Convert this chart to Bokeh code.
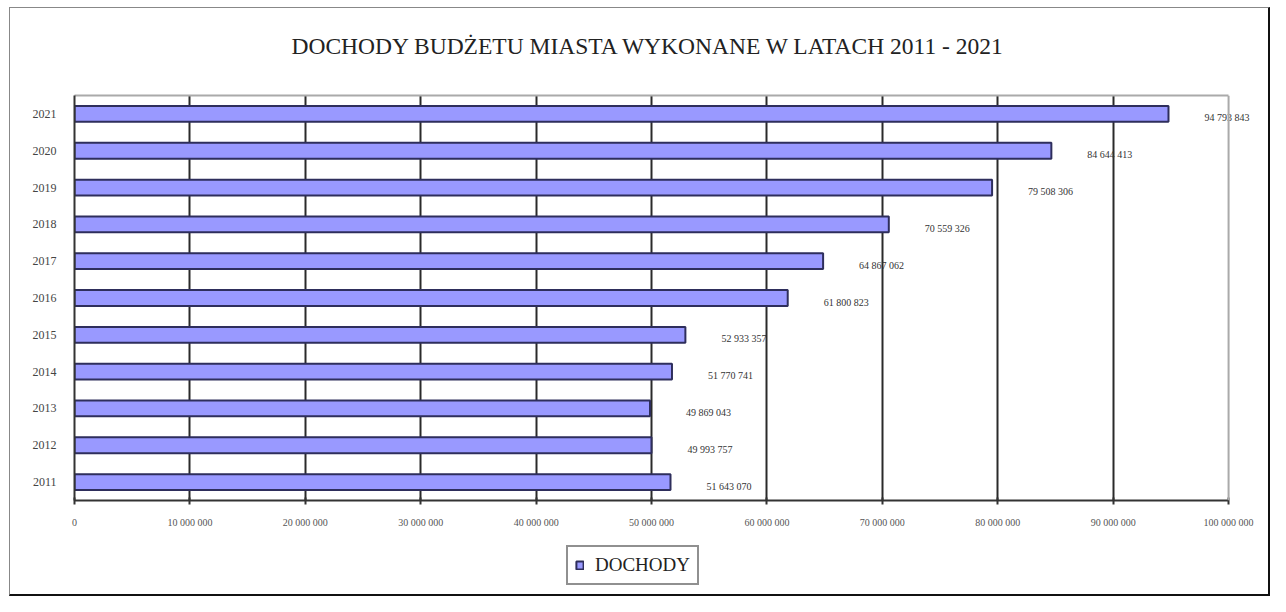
from bokeh.plotting import figure
from bokeh.layouts import column
from bokeh.models import (FactorRange, Range1d, FixedTicker, Legend, LegendItem, ColumnDataSource,
                          Span, LinearAxis, InlineStyleSheet)
from bokeh.core.properties import value
from bokeh.embed import file_html
from bokeh.resources import INLINE

# ---- data ----
years = ["2011", "2012", "2013", "2014", "2015", "2016", "2017", "2018", "2019", "2020", "2021"]
dochody = [51643070, 49993757, 49869043, 51770741, 52933357, 61800823, 64867062, 70559326, 79508306, 84644413, 94793843]
x_ticks = [0, 10000000, 20000000, 30000000, 40000000, 50000000, 60000000, 70000000, 80000000, 90000000, 100000000]
title_text = "DOCHODY BUDŻETU MIASTA WYKONANE W LATACH 2011 - 2021"
series_name = "DOCHODY"

def fmt(v):
    return f"{v:,}".replace(",", " ")

labels = [fmt(v) for v in dochody]
src = ColumnDataSource(dict(y=years, x=dochody, lab=labels))

SERIF = "Liberation Serif"
X_MAX = x_ticks[-1]
BAR_FILL = "#9999ff"
BAR_LINE = "#2e2e5c"

p = figure(width=1270, height=530, y_range=FactorRange(*years, range_padding=0),
           x_range=Range1d(0, X_MAX * 1.019), output_backend="svg", toolbar_location=None,
           min_border_left=74, min_border_right=20, min_border_top=95, min_border_bottom=30)
p.border_fill_alpha = 0

p.title.text = title_text
p.title.align = "left"
p.title.offset = 217
p.title.text_font = SERIF
p.title.text_font_size = "23.5px"
p.title.text_font_style = "normal"
p.title.text_color = "#222222"
p.title.standoff = 61

p.hbar(y="y", right="x", height=0.43, source=src, fill_color=BAR_FILL,
       line_color=BAR_LINE, line_width=2)

p.text(x="x", y="y", text="lab", source=src, x_offset=36, y_offset=4,
       text_font=value(SERIF), text_font_size="10px", text_color="#333333",
       text_baseline="middle", text_align="left")

# axes
p.xaxis.bounds = (0, X_MAX)
p.xaxis.ticker = FixedTicker(ticks=x_ticks)
p.xaxis.major_label_overrides = {t: fmt(t) for t in x_ticks}
p.xaxis.major_label_text_font = SERIF
p.xaxis.major_label_text_font_size = "10px"
p.xaxis.major_label_text_color = "#555555"
p.xaxis.major_label_standoff = 12
p.xaxis.axis_line_color = "#333333"
p.xaxis.axis_line_width = 2
p.xaxis.major_tick_line_color = "#333333"
p.xaxis.major_tick_line_width = 2
p.xaxis.major_tick_in = 3
p.xaxis.major_tick_out = 4
p.xaxis.minor_tick_line_color = None

p.yaxis.major_label_text_font = SERIF
p.yaxis.major_label_text_font_size = "12px"
p.yaxis.major_label_text_color = "#444444"
p.yaxis.axis_line_color = "#333333"
p.yaxis.axis_line_width = 2
p.yaxis.major_tick_line_color = None
p.yaxis.major_label_standoff = 12

top_axis = LinearAxis(bounds=(0, X_MAX), axis_line_color="#aaaaaa", axis_line_width=2,
                      major_tick_line_color=None, minor_tick_line_color=None,
                      major_label_text_font_size="0px", major_label_text_alpha=0)
p.add_layout(top_axis, "above")

p.xgrid.ticker = FixedTicker(ticks=x_ticks[:-1])
p.xgrid.grid_line_color = "#2a2a2a"
p.xgrid.grid_line_width = 2
p.ygrid.grid_line_color = None
p.add_layout(Span(location=X_MAX, dimension="height", line_color="#aaaaaa", line_width=2))
p.outline_line_color = None

# legend strip below the chart: its y range holds only the legend's factor,
# so the bars (years) are not placed there and only the legend entry shows
p2 = figure(width=1270, height=66, output_backend="svg", toolbar_location=None,
            x_axis_location=None, y_axis_location=None, min_border=0,
            x_range=Range1d(0, X_MAX), y_range=FactorRange(series_name))
p2.border_fill_alpha = 0
p2.background_fill_alpha = 0
p2.outline_line_color = None
p2.grid.grid_line_color = None
r2 = p2.hbar(y="y", right="x", height=0.43, source=src, fill_color=BAR_FILL,
             line_color=BAR_LINE, line_width=2)

legend = Legend(items=[LegendItem(label=series_name, renderers=[r2])],
                location=(492, 11), orientation="horizontal",
                label_text_font=SERIF, label_text_font_size="19px", label_text_color="#222222",
                glyph_width=9, glyph_height=10, border_line_color="#222222", border_line_width=2,
                padding=7, margin=0, spacing=0, label_standoff=11,
                background_fill_color="white", background_fill_alpha=1)
p2.add_layout(legend, "center")

layout = column(p, p2, spacing=0)
layout.stylesheets = [InlineStyleSheet(css=(
    ":host { position: relative; }"
    ":host::after { content: ''; position: absolute; left: 9px; top: 7px; right: 0px; bottom: 0px;"
    " border-left: 1px solid #888888; border-top: 1px solid #888888;"
    " border-right: 2px solid #111111; border-bottom: 2px solid #111111;"
    " pointer-events: none; z-index: 10; }"))]

open("out.html", "w").write(file_html(layout, INLINE))
